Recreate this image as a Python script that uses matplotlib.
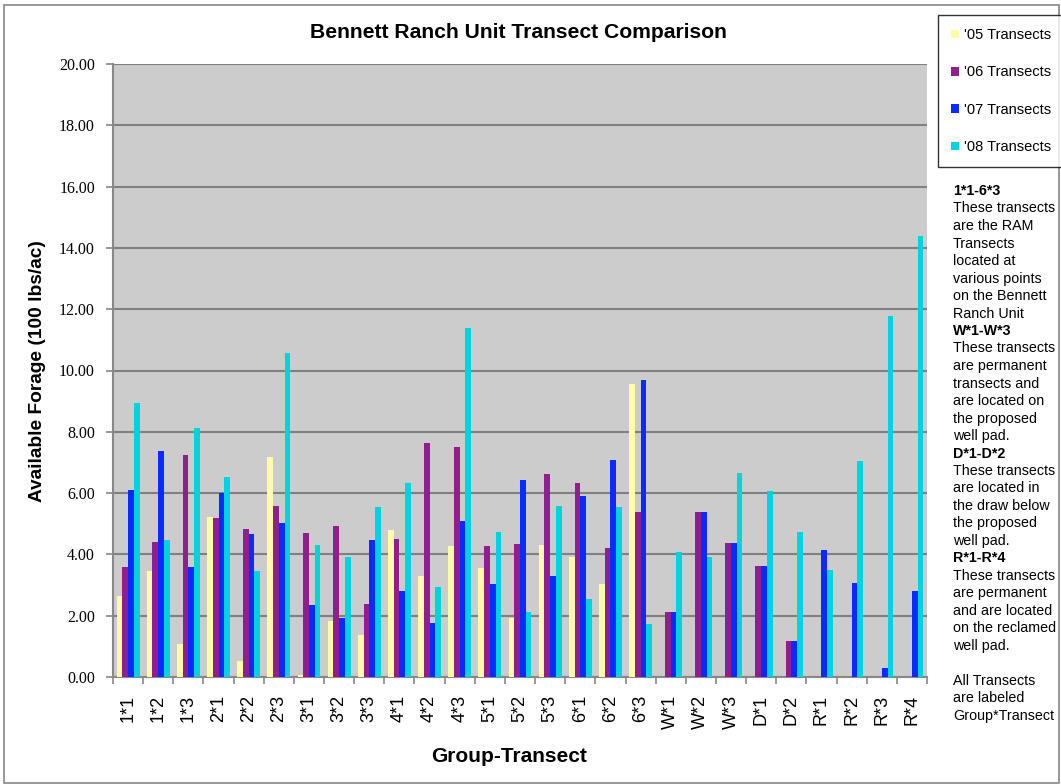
import matplotlib
matplotlib.use("Agg")
import matplotlib.pyplot as plt
import numpy as np
from matplotlib.patches import Rectangle

transects = ["1*1", "1*2", "1*3", "2*1", "2*2", "2*3", "3*1", "3*2", "3*3",
             "4*1", "4*2", "4*3", "5*1", "5*2", "5*3", "6*1", "6*2", "6*3",
             "W*1", "W*2", "W*3", "D*1", "D*2", "R*1", "R*2", "R*3", "R*4"]

t05 = [2.64, 3.46, 1.08, 5.22, 0.52, 7.18, 0.08, 1.83, 1.37,
       4.80, 3.30, 4.27, 3.56, 1.92, 4.31, 3.92, 3.03, 9.56,
       0, 0, 0, 0, 0, 0, 0, 0, 0]
t06 = [3.58, 4.40, 7.24, 5.19, 4.83, 5.58, 4.70, 4.93, 2.38,
       4.50, 7.63, 7.50, 4.27, 4.34, 6.62, 6.33, 4.21, 5.38,
       2.12, 5.38, 4.37, 3.62, 1.17, 0, 0, 0, 0]
t07 = [6.10, 7.37, 3.58, 6.00, 4.67, 5.02, 2.35, 1.92, 4.47,
       2.81, 1.76, 5.09, 3.03, 6.43, 3.30, 5.91, 7.08, 9.69,
       2.12, 5.38, 4.37, 3.62, 1.17, 4.14, 3.07, 0.29, 2.81]
t08 = [8.93, 4.47, 8.11, 6.53, 3.46, 10.57, 4.31, 3.92, 5.55,
       6.33, 2.94, 11.39, 4.73, 2.12, 5.58, 2.54, 5.55, 1.73,
       4.08, 3.92, 6.66, 6.07, 4.73, 3.49, 7.05, 11.78, 14.39]

series_names = ["'05 Transects", "'06 Transects", "'07 Transects", "'08 Transects"]
colors = ["#FFFBA6", "#921E8E", "#0A2AFF", "#00D4E0"]

notes = [
    ("1*1-6*3", True), ("These transects", False), ("are the RAM", False),
    ("Transects", False), ("located at", False), ("various points", False),
    ("on the Bennett", False), ("Ranch Unit", False),
    ("W*1-W*3", True), ("These transects", False), ("are permanent", False),
    ("transects and", False), ("are located on", False), ("the proposed", False),
    ("well pad.", False),
    ("D*1-D*2", True), ("These transects", False), ("are located in", False),
    ("the draw below", False), ("the proposed", False), ("well pad.", False),
    ("R*1-R*4", True), ("These transects", False), ("are permanent", False),
    ("and are located", False), ("on the reclamed", False), ("well pad.", False),
    ("", False),
    ("All Transects", False), ("are labeled", False), ("Group*Transect", False),
]

plt.rcParams['font.family'] = ['Liberation Sans', 'DejaVu Sans']

W, H = 1061, 784
fig = plt.figure(figsize=(W / 100, H / 100), dpi=100)
ax = fig.add_axes([113 / W, 1 - 677 / H, (927 - 113) / W, (677 - 64) / H])
ax.set_facecolor("#CCCCCC")

x = np.arange(len(transects))
bw = 0.19
for i, (vals, c, name) in enumerate(zip([t05, t06, t07, t08], colors, series_names)):
    ax.bar(x + (i - 1.5) * bw, vals, width=bw, color=c, label=name, zorder=3)

ax.set_xlim(-0.5, len(transects) - 0.5)
ax.set_ylim(0, 20)
ax.set_yticks(np.arange(0, 20.1, 2))
ax.set_yticklabels(["%.2f" % v for v in np.arange(0, 20.1, 2)],
                   family=["Liberation Serif", "DejaVu Serif"], fontsize=11.5)
ax.yaxis.grid(True, color="#808080", linewidth=1.5, zorder=1)
ax.set_axisbelow(True)

ax.set_xticks(x)
ax.set_xticklabels(transects, rotation=90, fontsize=13)
ax.set_xticks(np.arange(-0.5, len(transects), 1), minor=True)
ax.tick_params(axis="x", which="major", length=0, pad=13)
ax.tick_params(axis="x", which="minor", length=5, color="#888888", width=1.2)
ax.tick_params(axis="y", length=5, color="#888888", width=1.2, pad=8)

for s in ["top", "right"]:
    ax.spines[s].set_visible(False)
for s in ["left", "bottom"]:
    ax.spines[s].set_color("#888888")
    ax.spines[s].set_linewidth(1.5)

fig.text(38 / W, 1 - 371 / H, "Available Forage (100 lbs/ac)", fontsize=13.8,
         fontweight="bold", rotation=90, ha="center", va="center")
fig.text(509 / W, 1 - 757 / H, "Group-Transect", fontsize=15,
         fontweight="bold", ha="center", va="center")
fig.text(518 / W, 1 - 32 / H, "Bennett Ranch Unit Transect Comparison",
         fontsize=15.2, fontweight="bold", ha="center", va="center")

# legend box
leg = fig.legend(*ax.get_legend_handles_labels(), loc="upper left",
                 bbox_to_anchor=(938 / W, 1 - 15 / H), fontsize=10.5,
                 frameon=True, fancybox=False, edgecolor="black",
                 handlelength=0.55, handleheight=0.55, handletextpad=0.3,
                 labelspacing=1.6, borderpad=0.9, borderaxespad=0)
leg.get_frame().set_linewidth(1.0)

y0 = 191
for k, (line, bold) in enumerate(notes):
    fig.text(953 / W, 1 - (y0 + k * 17.5) / H, line, fontsize=10.3,
             fontweight="bold" if bold else "normal", ha="left", va="center")

# outer frame
fig.patches.append(Rectangle((4 / W, 1 / H), (W - 6) / W, (H - 6) / H,
                             transform=fig.transFigure, fill=False,
                             edgecolor="#888888", linewidth=1.2))

fig.savefig("out.png", dpi=100)
